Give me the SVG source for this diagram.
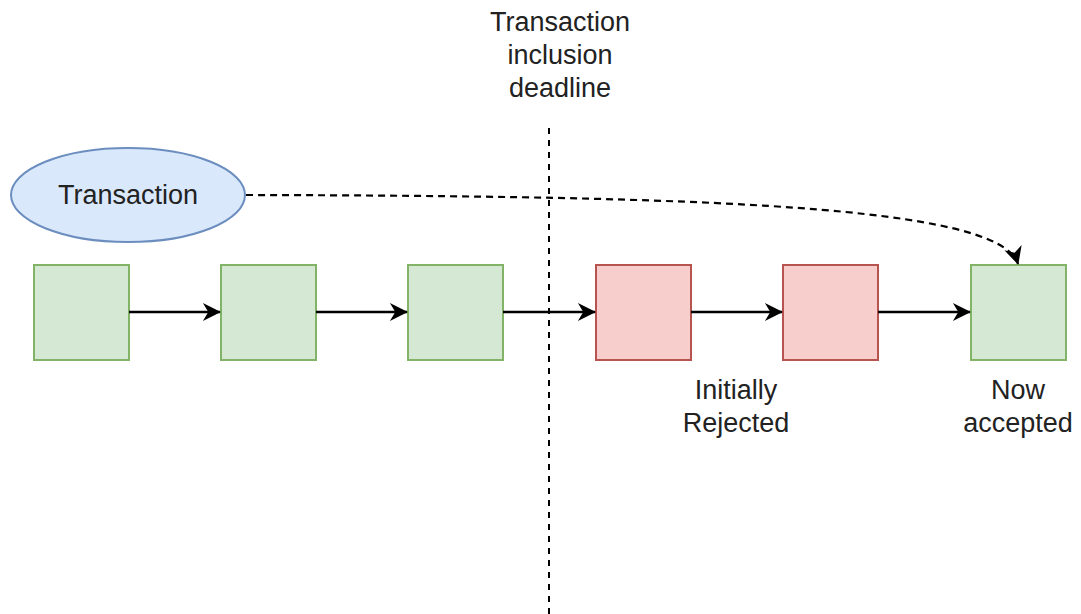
<svg xmlns="http://www.w3.org/2000/svg" width="1081" height="614" viewBox="0 0 1081 614">
<defs>
<style>
.lbl{font-family:"Liberation Sans",Arial,sans-serif;font-size:27px;fill:#222;text-anchor:middle}
.g{fill:#d5e8d4;stroke:#82b366;stroke-width:2}
.r{fill:#f8cecc;stroke:#b85450;stroke-width:2}
.e{stroke:#000;stroke-width:2.5;fill:none}
</style>
<marker id="ah" viewBox="0 0 10 10" refX="9.5" refY="5" markerWidth="20" markerHeight="18" markerUnits="userSpaceOnUse" orient="auto">
<path d="M0,0 L10,5 L0,10 L3,5 Z" fill="#000"/>
</marker>
</defs>
<rect width="1081" height="614" fill="#fff"/>
<g id="deadline">
<line x1="549" y1="128" x2="549" y2="614" stroke="#000" stroke-width="2" stroke-dasharray="6 6"/>
<text class="lbl" x="560" y="31">Transaction</text>
<text class="lbl" x="560" y="64">inclusion</text>
<text class="lbl" x="560" y="97">deadline</text>
</g>
<g id="tx">
<ellipse cx="128" cy="195" rx="117" ry="47" fill="#dae8fc" stroke="#6c8ebf" stroke-width="2"/>
<text class="lbl" x="128" y="204">Transaction</text>
</g>
<g id="b1"><rect class="g" x="34" y="265" width="95" height="95"/></g>
<g id="b2"><rect class="g" x="221" y="265" width="95" height="95"/></g>
<g id="b3"><rect class="g" x="408" y="265" width="95" height="95"/></g>
<g id="b4"><rect class="r" x="596" y="265" width="95" height="95"/></g>
<g id="b5"><rect class="r" x="783" y="265" width="95" height="95"/>
<text class="lbl" x="736" y="399">Initially</text>
<text class="lbl" x="736" y="432">Rejected</text></g>
<g id="b6"><rect class="g" x="971" y="265" width="95" height="95"/>
<text class="lbl" x="1018" y="399">Now</text>
<text class="lbl" x="1018" y="432">accepted</text></g>
<g id="connectors">
<line class="e" x1="129" y1="312" x2="220" y2="312" marker-end="url(#ah)"/>
<line class="e" x1="316" y1="312" x2="407" y2="312" marker-end="url(#ah)"/>
<line class="e" x1="503" y1="312" x2="595" y2="312" marker-end="url(#ah)"/>
<line class="e" x1="691" y1="312" x2="782" y2="312" marker-end="url(#ah)"/>
<line class="e" x1="878" y1="312" x2="970" y2="312" marker-end="url(#ah)"/>
<path d="M246,195 C 700,196 1000,205 1018,264" fill="none" stroke="#000" stroke-width="2.2" stroke-dasharray="7 5" marker-end="url(#ah)"/>
</g>
</svg>
